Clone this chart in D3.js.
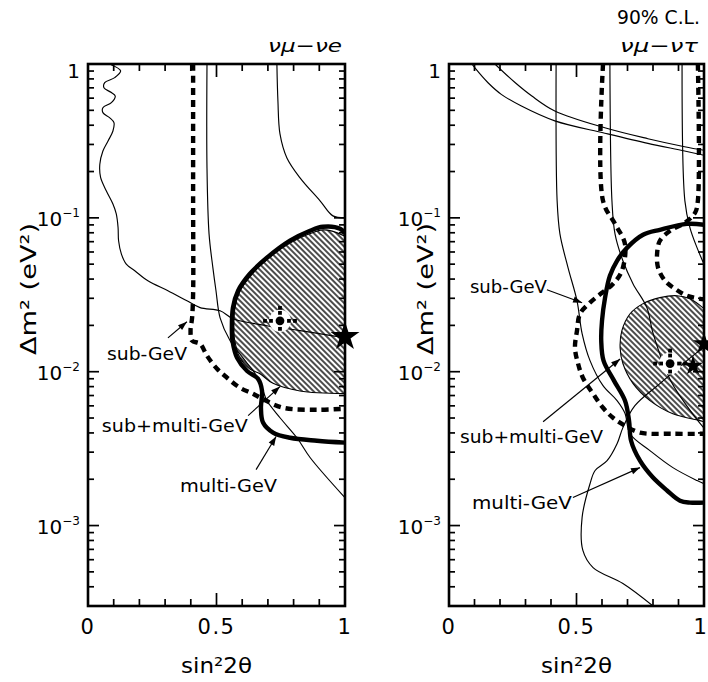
<!DOCTYPE html>
<html><head><meta charset="utf-8">
<script src="https://cdn.jsdelivr.net/npm/d3@7"></script>
<style>
body{margin:0;background:#fff}
svg{display:block}
text{font-family:"DejaVu Sans",sans-serif;fill:#000}
</style>
</head><body>
<svg id="c" width="708" height="682"></svg>
<script>
// ---------- axis / tick data ----------
const X_TICK_VALUES = [0, 0.5, 1];
const X_TICK_LABELS = ["0", "0.5", "1"];
const X_MINOR_TICKS = [0.1, 0.2, 0.3, 0.4, 0.6, 0.7, 0.8, 0.9];
const Y_DOMAIN = [3e-4, 1];
const Y_MAJOR_TICKS = [1e-3, 1e-2, 1e-1, 1];
const Y_MAJOR_EXP = ["-3", "-2", "-1", ""];
const Y_MINOR_MULT = [2, 3, 4, 5, 6, 7, 8, 9];

// ---------- nu_mu - nu_e panel (sin^2 2theta, dm^2) ----------
const E_WAVY = [[0.09,0.99],[0.127,0.902],[0.104,0.815],[0.065,0.757],[0.062,0.701],[0.091,0.652],[0.106,0.619],[0.091,0.561],[0.058,0.520],[0.058,0.483],[0.084,0.448],[0.101,0.416],[0.097,0.367],[0.078,0.316],[0.058,0.272],[0.046,0.223],[0.049,0.183],[0.071,0.150],[0.097,0.123],[0.110,0.106],[0.117,0.0865],[0.119,0.0710],[0.130,0.0581],[0.149,0.0500],[0.182,0.0453],[0.233,0.0390],[0.311,0.0336],[0.385,0.0289],[0.436,0.0261],[0.514,0.0249],[0.564,0.0221],[0.696,0.0199],[0.825,0.0185],[0.953,0.0171],[1.0,0.0166]];
const E_THIN_MID = [[0.463,1.0],[0.463,0.211],[0.471,0.0787],[0.486,0.0473],[0.498,0.0336],[0.514,0.0224],[0.553,0.0159],[0.603,0.0123],[0.650,0.00971],[0.677,0.00787],[0.696,0.00649],[0.747,0.00502],[0.813,0.00372],[0.864,0.00277],[0.992,0.00157],[1.0,0.00152]];
const E_THIN_RIGHT = [[0.735,1.0],[0.739,0.575],[0.747,0.351],[0.774,0.245],[0.825,0.182],[0.903,0.129],[0.953,0.103],[1.0,0.100]];
const E_SUB = [[0.409,1.0],[0.409,0.129],[0.409,0.0321],[0.405,0.0224],[0.399,0.0185],[0.405,0.0159],[0.436,0.0152],[0.463,0.0127],[0.502,0.01045],[0.541,0.00914],[0.591,0.00787],[0.642,0.00719],[0.677,0.00668],[0.759,0.00583],[0.891,0.00566],[1.0,0.00575]];
const E_MULTI = [[1.0,0.0787],[0.981,0.0849],[0.914,0.0875],[0.864,0.0824],[0.786,0.0710],[0.696,0.0550],[0.630,0.0433],[0.584,0.0336],[0.564,0.0261],[0.560,0.0177],[0.562,0.0159],[0.580,0.0123],[0.619,0.0101],[0.661,0.00902],[0.677,0.00753],[0.673,0.00583],[0.681,0.00467],[0.720,0.00402],[0.786,0.00372],[0.891,0.00356],[1.0,0.00346]];
const E_COMBINED = [[1.0,0.0760],[0.95,0.0820],[0.914,0.0835],[0.864,0.0790],[0.786,0.0685],[0.696,0.0535],[0.633,0.0420],[0.590,0.0330],[0.572,0.0261],[0.568,0.0177],[0.571,0.0159],[0.590,0.0124],[0.630,0.0104],[0.669,0.0097],[0.72,0.0084],[0.825,0.0075],[1.0,0.0072]];
const E_FIT_CROSS = [0.747, 0.0214];
const E_FIT_STAR = [1.0, 0.0169];

// ---------- nu_mu - nu_tau panel ----------
const T_TOP1 = [[0.09,1.0],[0.101,0.946],[0.153,0.755],[0.205,0.635],[0.284,0.533],[0.415,0.427],[0.611,0.355],[0.78,0.305],[0.924,0.272],[1.0,0.255]];
const T_TOP2 = [[0.18,1.0],[0.26,0.755],[0.325,0.619],[0.415,0.495],[0.611,0.385],[0.78,0.327],[0.924,0.290],[1.0,0.275]];
const T_THIN_A = [[0.42,1.0],[0.424,0.129],[0.435,0.0787],[0.467,0.0473],[0.502,0.0289],[0.522,0.0177],[0.553,0.0118],[0.604,0.00811],[0.659,0.00649],[0.69,0.00537],[0.71,0.00395],[0.788,0.00307],[0.878,0.00238],[0.973,0.00196],[1.0,0.00187]];
const T_THIN_B = [[0.631,1.0],[0.639,0.129],[0.651,0.0787],[0.682,0.0526],[0.722,0.0372],[0.776,0.0261],[0.80,0.0178],[0.87,0.0087],[0.96,0.0052],[1.0,0.0043]];
const T_THIN_C = [[0.914,1.0],[0.925,0.129],[0.945,0.0861],[0.973,0.0638],[1.0,0.050]];
const T_SUB_OUTER = [[0.604,1.0],[0.604,0.129],[0.651,0.0914],[0.690,0.0678],[0.678,0.0453],[0.643,0.0372],[0.600,0.0326],[0.553,0.0281],[0.514,0.0238],[0.502,0.0185],[0.494,0.0143],[0.506,0.0113],[0.525,0.00914],[0.565,0.00719],[0.604,0.00583],[0.643,0.00502],[0.690,0.00446],[0.749,0.00402],[0.878,0.00395],[1.0,0.00395]];
const T_SUB_INNER = [[0.976,1.0],[0.976,0.129],[0.965,0.108],[0.925,0.0929],[0.867,0.0824],[0.827,0.0710],[0.816,0.0583],[0.820,0.0473],[0.847,0.0390],[0.886,0.0346],[0.933,0.0312],[1.0,0.0295]];
const T_MULTI = [[1.0,0.0902],[0.933,0.0914],[0.827,0.0836],[0.761,0.0776],[0.698,0.0638],[0.659,0.0526],[0.631,0.0420],[0.612,0.0303],[0.600,0.0214],[0.597,0.0159],[0.606,0.0118],[0.647,0.00875],[0.690,0.00649],[0.706,0.00481],[0.714,0.00356],[0.749,0.00264],[0.800,0.00205],[0.855,0.00169],[0.906,0.00145],[0.945,0.00141],[1.0,0.00141]];
const T_COMBINED = [[1.0,0.0257],[0.945,0.0298],[0.894,0.0312],[0.827,0.0303],[0.761,0.0277],[0.71,0.0238],[0.678,0.0185],[0.671,0.0143],[0.682,0.0113],[0.722,0.00836],[0.788,0.00649],[0.878,0.00533],[0.984,0.00481],[1.0,0.00473]];
const T_WAVY = [[0.80,3e-4],[0.682,0.000420],[0.565,0.000533],[0.525,0.000689],[0.522,0.00113],[0.553,0.00187],[0.573,0.00228],[0.62,0.00264],[0.659,0.00340],[0.682,0.00433],[0.729,0.00601],[0.827,0.00836],[0.933,0.0118],[1.0,0.0145]];
const T_FIT_CROSS = [0.867, 0.0113];
const T_FIT_STAR = [0.957, 0.0109];
const T_FIT_EDGE = [1.0, 0.0152];

// ---------- annotations: [label, textPos, arrowFrom, arrowTo, textWidth] ----------
const E_NOTES = [
  ["sub-GeV", [0.074,0.0120], [0.311,0.0166], [0.385,0.0211], 80],
  ["sub+multi-GeV", [0.054,0.00408], [0.623,0.00518], [0.747,0.00800], 146],
  ["multi-GeV", [0.358,0.00166], [0.654,0.00231], [0.732,0.00379], 97]
];
const T_NOTES = [
  ["sub-GeV", [0.082,0.0326], [0.384,0.0341], [0.522,0.0281], 77],
  ["sub+multi-GeV", [0.043,0.00346], [0.369,0.00473], [0.671,0.0121], 143],
  ["multi-GeV", [0.09,0.00129], [0.486,0.00152], [0.749,0.00238], 100]
];

// ---------- drawing ----------
const svg = d3.select("#c");
const defs = svg.append("defs");
const HP = 4.0;
const pat = defs.append("pattern").attr("id","hatch").attr("patternUnits","userSpaceOnUse")
  .attr("width",HP).attr("height",HP).attr("patternTransform","rotate(-45)");
pat.append("rect").attr("width",HP).attr("height",HP).attr("fill","#fff");
pat.append("line").attr("x1",1).attr("y1",0).attr("x2",1).attr("y2",HP).attr("stroke","#000").attr("stroke-width",1.4);

svg.append("text").attr("x",700).attr("y",24).attr("text-anchor","end")
  .attr("font-size",19).attr("textLength",83).attr("lengthAdjust","spacingAndGlyphs").text("90% C.L.");

function drawPanel(p) {
  const x = d3.scaleLinear().domain([0,1]).range([p.x0,p.x1]);
  const y = d3.scaleLog().domain(Y_DOMAIN).range([606,64]);
  const g = svg.append("g");
  const clipId = "clip"+p.id;
  defs.append("clipPath").attr("id",clipId).append("rect")
    .attr("x",p.x0).attr("y",64).attr("width",p.x1-p.x0).attr("height",542);
  const line = d3.line().x(d=>x(d[0])).y(d=>y(d[1])).curve(d3.curveCatmullRom.alpha(0.5));
  const cg = g.append("g").attr("clip-path",`url(#${clipId})`);

  // hatched combined region
  cg.append("path").attr("d", line(p.combined)+"Z").attr("fill","url(#hatch)")
    .attr("stroke","#000").attr("stroke-width",1.1);
  // thin lines
  p.thin.forEach(s=>cg.append("path").attr("d",line(s)).attr("fill","none")
    .attr("stroke","#000").attr("stroke-width",1.15));
  // sub-GeV dashed
  p.sub.forEach(s=>cg.append("path").attr("d",line(s)).attr("fill","none")
    .attr("stroke","#000").attr("stroke-width",4.4).attr("stroke-dasharray","7,5"));
  // multi-GeV thick
  cg.append("path").attr("d",line(p.multi)).attr("fill","none")
    .attr("stroke","#000").attr("stroke-width",4.4).attr("stroke-linejoin","round");

  // best fit cross (dotted)
  const cx = x(p.cross[0]), cy = y(p.cross[1]);
  g.append("circle").attr("cx",cx).attr("cy",cy).attr("r",11).attr("fill","#fff");
  g.append("circle").attr("cx",cx).attr("cy",cy).attr("r",4.4).attr("fill","#000");
  [[-9,0],[9,0],[-15,0],[15,0],[0,-8],[0,8],[0,-13]].forEach(o=>
    g.append("rect").attr("x",cx+o[0]-1.9).attr("y",cy+o[1]-1.9).attr("width",3.8).attr("height",3.8).attr("fill","#000"));
  // stars
  p.stars.forEach(s=>{
    g.append("path").attr("d",d3.symbol(d3.symbolStar).size(s[2])())
      .attr("transform",`translate(${x(s[0])},${y(s[1])})`).attr("fill","#000");
  });

  // annotations
  p.notes.forEach(n=>{
    g.append("text").attr("x",x(n[1][0])).attr("y",y(n[1][1])).attr("font-size",18)
      .attr("textLength",n[4]).attr("lengthAdjust","spacingAndGlyphs").text(n[0]);
    const x1=x(n[2][0]), y1=y(n[2][1]), x2=x(n[3][0]), y2=y(n[3][1]);
    g.append("line").attr("x1",x1).attr("y1",y1).attr("x2",x2).attr("y2",y2)
      .attr("stroke","#000").attr("stroke-width",1.15);
    const a = Math.atan2(y2-y1,x2-x1), L=9, W=3.2;
    const bx = x2-L*Math.cos(a), by = y2-L*Math.sin(a);
    g.append("path").attr("d",`M${x2},${y2}L${bx-W*Math.sin(a)},${by+W*Math.cos(a)}L${bx+W*Math.sin(a)},${by-W*Math.cos(a)}Z`).attr("fill","#000");
  });

  // frame
  g.append("rect").attr("x",p.x0).attr("y",64).attr("width",p.x1-p.x0).attr("height",542)
    .attr("fill","none").attr("stroke","#000").attr("stroke-width",2.6);
  // ticks
  const tickG = g.append("g").attr("stroke","#000").attr("stroke-width",1.7);
  Y_MAJOR_TICKS.forEach(v=>{
    tickG.append("line").attr("x1",p.x0).attr("x2",p.x0+11).attr("y1",y(v)).attr("y2",y(v));
    tickG.append("line").attr("x1",p.x1).attr("x2",p.x1-11).attr("y1",y(v)).attr("y2",y(v));
  });
  [1e-4,1e-3,1e-2,1e-1].forEach(dec=>Y_MINOR_MULT.forEach(m=>{
    const v=dec*m; if(v<Y_DOMAIN[0]||v>1) return;
    tickG.append("line").attr("x1",p.x0).attr("x2",p.x0+6).attr("y1",y(v)).attr("y2",y(v));
    tickG.append("line").attr("x1",p.x1).attr("x2",p.x1-6).attr("y1",y(v)).attr("y2",y(v));
  }));
  X_MINOR_TICKS.concat([0.5]).forEach(v=>{
    const len = v===0.5?13:7;
    tickG.append("line").attr("x1",x(v)).attr("x2",x(v)).attr("y1",606).attr("y2",606-len);
    tickG.append("line").attr("x1",x(v)).attr("x2",x(v)).attr("y1",64).attr("y2",64+len);
  });
  // tick labels
  X_TICK_VALUES.forEach((v,i)=>{
    const px = Math.min(x(v), 701);
    g.append("text").attr("x",px).attr("y",634).attr("text-anchor","middle")
      .attr("font-size",21).attr("letter-spacing",1.5).text(X_TICK_LABELS[i]);
  });
  Y_MAJOR_TICKS.forEach((v,i)=>{
    const t = g.append("text").attr("x",p.x0-8).attr("y",y(v)+(v===1?14:8)).attr("text-anchor","end").attr("font-size",20);
    if (Y_MAJOR_EXP[i]==="") { t.text("1"); }
    else { t.append("tspan").text("10"); t.append("tspan").attr("font-size",12).attr("dy",-9).text("\u2212"+Y_MAJOR_EXP[i].slice(1)); }
  });
  // axis titles
  g.append("text").attr("transform",`translate(${p.ytx},289) rotate(-90)`).attr("text-anchor","middle")
    .attr("font-size",21).attr("textLength",132).attr("lengthAdjust","spacingAndGlyphs").text("\u0394m\u00b2 (eV\u00b2)");
  g.append("text").attr("x",(p.x0+p.x1)/2).attr("y",673).attr("text-anchor","middle")
    .attr("font-size",22).attr("textLength",71).attr("lengthAdjust","spacingAndGlyphs").text("sin\u00b22\u03b8");
  g.append("text").attr("x",p.titleX).attr("y",52).attr("text-anchor","end").attr("font-style","italic")
    .attr("font-size",18).attr("textLength",p.titleW).attr("lengthAdjust","spacingAndGlyphs").text(p.title);
}

drawPanel({id:"e", x0:88, x1:345, ytx:36, title:"\u03bd\u03bc\u2212\u03bde", titleX:342, titleW:74,
  combined:E_COMBINED, thin:[E_WAVY,E_THIN_MID,E_THIN_RIGHT], sub:[E_SUB], multi:E_MULTI,
  cross:E_FIT_CROSS, stars:[[E_FIT_STAR[0],E_FIT_STAR[1],260]], notes:E_NOTES});
drawPanel({id:"t", x0:449, x1:704, ytx:433, title:"\u03bd\u03bc\u2212\u03bd\u03c4", titleX:698, titleW:78,
  combined:T_COMBINED, thin:[T_TOP1,T_TOP2,T_THIN_A,T_THIN_B,T_THIN_C,T_WAVY], sub:[T_SUB_OUTER,T_SUB_INNER], multi:T_MULTI,
  cross:T_FIT_CROSS, stars:[[T_FIT_STAR[0],T_FIT_STAR[1],120],[T_FIT_EDGE[0],T_FIT_EDGE[1],150]], notes:T_NOTES});
</script>
</body></html>
